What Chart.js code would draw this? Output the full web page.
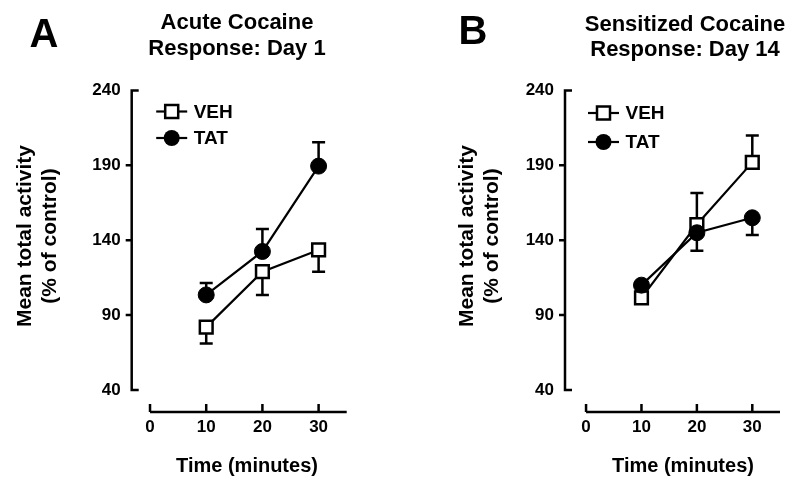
<!DOCTYPE html>
<html>
<head>
<meta charset="utf-8">
<script src="https://cdn.jsdelivr.net/npm/chart.js@4.4.0/dist/chart.umd.min.js"></script>
<style>
  html, body { margin: 0; padding: 0; background: #fff; }
  #wrap { position: relative; width: 800px; height: 487px; }
  .painel { position: absolute; top: 0; width: 400px; height: 487px; }
</style>
</head>
<body>
<div id="wrap">
  <div class="painel" style="left:0"><canvas id="graficoA" width="400" height="487"></canvas></div>
  <div class="painel" style="left:400px"><canvas id="graficoB" width="400" height="487"></canvas></div>
</div>
<script>
// Dados iniciais
const tempos = [10, 20, 30];
const ticksX = [0, 10, 20, 30];
const ticksY = [40, 90, 140, 190, 240];
const series = ['VEH', 'TAT'];

// Painel A - dia 1
const vehDia1 = [82, 119, 133.5];
const vehDia1Erro = [11, 15.5, 14.5];
const tatDia1 = [103.5, 132.5, 189.5];
const tatDia1Erro = [8, 15, 16];

// Painel B - dia 14
const vehDia14 = [101.5, 150.5, 192];
const vehDia14Erro = [3, 21, 18];
const tatDia14 = [110, 145, 155];
const tatDia14Erro = [3, 12, 11.5];

const FONTE = '"Liberation Sans", Arial, sans-serif';

function pontos(valores) {
    return tempos.map((t, i) => ({ x: t, y: valores[i] }));
}

// Plugin que desenha eixos, barras de erro, legenda e textos
function criarPlugin(cfg) {
    return {
        id: 'painel' + cfg.letra,
        beforeDatasetsDraw(chart) {
            const ctx = chart.ctx, sx = chart.scales.x, sy = chart.scales.y;
            ctx.save();
            ctx.strokeStyle = '#000';
            ctx.lineWidth = 2.5;
            chart.data.datasets.forEach(ds => {
                ds.data.forEach((p, i) => {
                    const px = sx.getPixelForValue(p.x);
                    const y0 = sy.getPixelForValue(p.y);
                    const y1 = sy.getPixelForValue(p.y + ds.direcao * ds.erros[i]);
                    ctx.beginPath();
                    ctx.moveTo(px, y0);
                    ctx.lineTo(px, y1);
                    ctx.moveTo(px - 6.5, y1);
                    ctx.lineTo(px + 6.5, y1);
                    ctx.stroke();
                });
            });
            ctx.restore();
        },
        afterDraw(chart) {
            const ctx = chart.ctx, sx = chart.scales.x, sy = chart.scales.y;
            const esq = chart.chartArea.left, base = chart.chartArea.bottom;
            ctx.save();
            ctx.strokeStyle = '#000';
            ctx.fillStyle = '#000';
            ctx.lineWidth = 2.5;

            // eixo Y
            const yTopo = sy.getPixelForValue(ticksY[ticksY.length - 1]);
            const yFundo = sy.getPixelForValue(ticksY[0]);
            ctx.beginPath();
            ctx.moveTo(esq + 7, yTopo);
            ctx.lineTo(esq, yTopo);
            ctx.lineTo(esq, yFundo);
            ctx.lineTo(esq + 7, yFundo);
            ticksY.slice(1, -1).forEach(v => {
                const py = sy.getPixelForValue(v);
                ctx.moveTo(esq - 6, py);
                ctx.lineTo(esq, py);
            });
            ctx.stroke();

            // eixo X
            ctx.beginPath();
            ctx.moveTo(sx.getPixelForValue(0), base);
            ctx.lineTo(sx.getPixelForValue(35), base);
            ticksX.forEach(v => {
                const px = sx.getPixelForValue(v);
                ctx.moveTo(px, base);
                ctx.lineTo(px, base - 8);
            });
            ctx.stroke();

            // legenda
            ctx.font = 'bold 19px ' + FONTE;
            ctx.textBaseline = 'middle';
            ctx.textAlign = 'left';
            const lx = esq + cfg.legX;
            series.forEach((nome, i) => {
                const ly = cfg.legY[i];
                ctx.lineWidth = 2.2;
                ctx.beginPath();
                ctx.moveTo(lx - 15.5, ly);
                ctx.lineTo(lx + 15.5, ly);
                ctx.stroke();
                if (nome === 'VEH') {
                    ctx.fillStyle = '#fff';
                    ctx.fillRect(lx - 6.5, ly - 6.5, 13, 13);
                    ctx.lineWidth = 2.5;
                    ctx.strokeRect(lx - 6.5, ly - 6.5, 13, 13);
                } else {
                    ctx.fillStyle = '#000';
                    ctx.beginPath();
                    ctx.arc(lx, ly, 8, 0, Math.PI * 2);
                    ctx.fill();
                }
                ctx.fillStyle = '#000';
                ctx.fillText(nome, lx + 22, ly + 1);
            });

            // letra do painel
            ctx.textAlign = 'center';
            ctx.font = 'bold 40px ' + FONTE;
            ctx.fillText(cfg.letra, cfg.letraPos[0], cfg.letraPos[1]);

            // titulo
            ctx.font = 'bold 22px ' + FONTE;
            cfg.titulo.forEach((linha, i) => ctx.fillText(linha, cfg.tituloX, cfg.tituloY[i]));

            // titulo eixo X
            ctx.font = 'bold 20px ' + FONTE;
            ctx.fillText('Time (minutes)', cfg.tituloEixoX[0], cfg.tituloEixoX[1]);

            // titulo eixo Y
            ctx.font = 'bold 21px ' + FONTE;
            ['Mean total activity', '(% of control)'].forEach((linha, i) => {
                ctx.save();
                ctx.translate(cfg.tituloEixoY[i], 236);
                ctx.rotate(-Math.PI / 2);
                ctx.fillText(linha, 0, 0);
                ctx.restore();
            });
            ctx.restore();
        }
    };
}

function criarGrafico(id, cfg) {
    const fonteTicks = { family: FONTE, size: 17, weight: 'bold' };
    return new Chart(document.getElementById(id), {
        type: 'line',
        data: {
            datasets: [{
                label: 'TAT',
                data: pontos(cfg.tat),
                erros: cfg.tatErro,
                direcao: cfg.dirTat,
                borderColor: '#000',
                borderWidth: 2.2,
                pointStyle: 'circle',
                pointRadius: 8,
                pointBackgroundColor: '#000',
                pointBorderColor: '#000',
                pointBorderWidth: 1,
                clip: false
            }, {
                label: 'VEH',
                data: pontos(cfg.veh),
                erros: cfg.vehErro,
                direcao: -cfg.dirTat,
                borderColor: '#000',
                borderWidth: 2.2,
                pointStyle: 'rect',
                pointRadius: 9,
                pointBackgroundColor: '#fff',
                pointBorderColor: '#000',
                pointBorderWidth: 2.5,
                clip: false
            }]
        },
        options: {
            responsive: false,
            animation: false,
            layout: { padding: { left: 0, top: 90.5, right: cfg.direita, bottom: 0 } },
            plugins: { legend: { display: false }, tooltip: { enabled: false } },
            scales: {
                x: {
                    type: 'linear',
                    min: cfg.xMin,
                    max: 35,
                    grid: { display: false, drawTicks: false },
                    border: { display: false },
                    afterBuildTicks: s => { s.ticks = ticksX.map(v => ({ value: v })); },
                    afterFit: s => { s.height = 75; },
                    ticks: { padding: 5, color: '#000', font: fonteTicks, maxRotation: 0 }
                },
                y: {
                    min: 25.3,
                    max: 240,
                    grid: { display: false, drawTicks: false },
                    border: { display: false },
                    afterBuildTicks: s => { s.ticks = ticksY.map(v => ({ value: v })); },
                    afterFit: s => { s.width = cfg.larguraY; },
                    ticks: { padding: 11, color: '#000', font: fonteTicks }
                }
            }
        },
        plugins: [criarPlugin(cfg)]
    });
}

criarGrafico('graficoA', {
    letra: 'A', letraPos: [44, 36],
    titulo: ['Acute Cocaine', 'Response: Day 1'], tituloX: 237, tituloY: [23, 49],
    tituloEixoX: [247, 466], tituloEixoY: [25, 50],
    veh: vehDia1, vehErro: vehDia1Erro, tat: tatDia1, tatErro: tatDia1Erro, dirTat: 1,
    xMin: -3.26, direita: 53.3, larguraY: 131.7,
    legX: 40, legY: [111.5, 138]
});

criarGrafico('graficoB', {
    letra: 'B', letraPos: [73, 33],
    titulo: ['Sensitized Cocaine', 'Response: Day 14'], tituloX: 285, tituloY: [25, 50],
    tituloEixoX: [283, 466], tituloEixoY: [67, 92],
    veh: vehDia14, vehErro: vehDia14Erro, tat: tatDia14, tatErro: tatDia14Erro, dirTat: -1,
    xMin: -3.8, direita: 20, larguraY: 165,
    legX: 38.5, legY: [113, 142]
});
</script>
</body>
</html>
